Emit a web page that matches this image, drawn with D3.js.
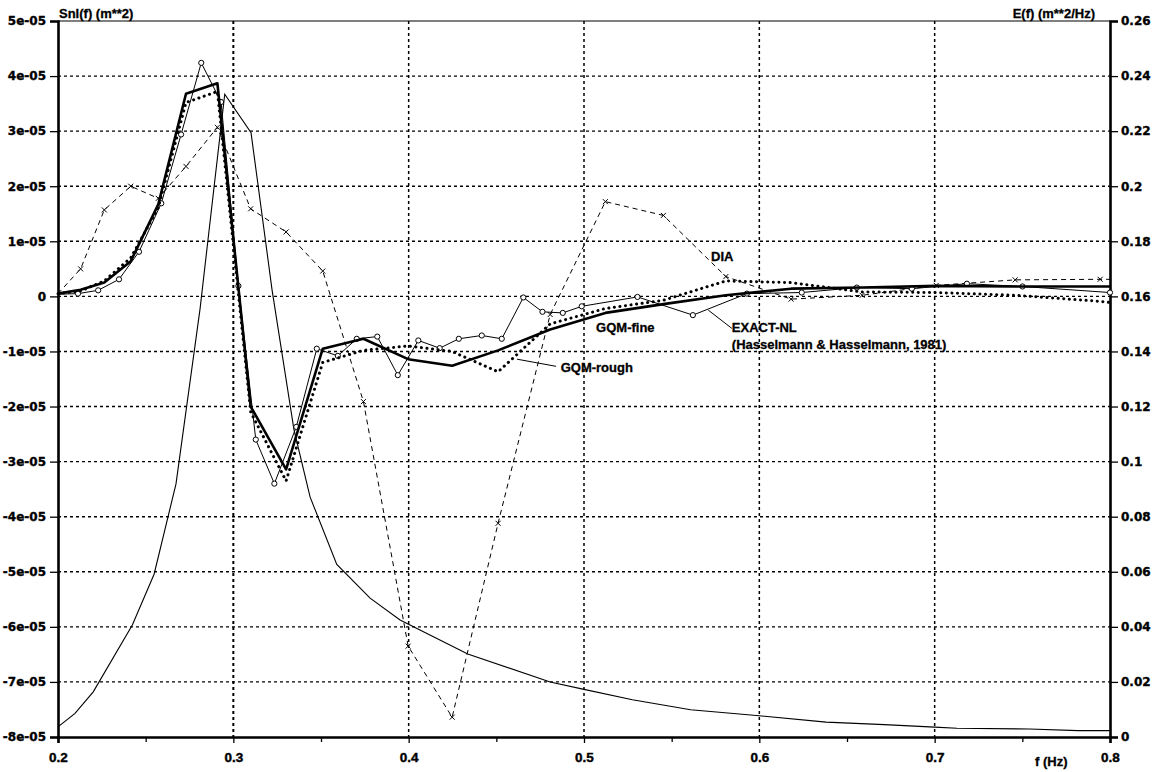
<!DOCTYPE html>
<html><head><meta charset="utf-8">
<script src="https://cdn.jsdelivr.net/npm/d3@7"></script>
<style>
html,body{margin:0;padding:0;background:#fff;}
svg{display:block;}
.tk{font-family:"DejaVu Sans",sans-serif;font-weight:bold;font-size:12px;stroke:#000;stroke-width:0.35px;}
.xt{font-family:"Liberation Sans",Arial,sans-serif;font-weight:bold;font-size:13.5px;stroke:#000;stroke-width:0.4px;}
.lb{font-family:"Liberation Sans",Arial,sans-serif;font-weight:bold;font-size:13px;stroke:#000;stroke-width:0.3px;}
</style></head><body>
<svg id="c" width="1160" height="772"></svg>
<script>
// ---- data ----
const xTicks = [0.2,0.3,0.4,0.5,0.6,0.7,0.8];
const xTickLabels = ["0.2","0.3","0.4","0.5","0.6","0.7","0.8"];
const xMinor = [0.25,0.35,0.45,0.55,0.65,0.75];
const leftTicks = [-8e-5,-7e-5,-6e-5,-5e-5,-4e-5,-3e-5,-2e-5,-1e-5,0,1e-5,2e-5,3e-5,4e-5,5e-5];
const leftTickLabels = ["-8e-05","-7e-05","-6e-05","-5e-05","-4e-05","-3e-05","-2e-05","-1e-05","0","1e-05","2e-05","3e-05","4e-05","5e-05"];
const rightTicks = [0,0.02,0.04,0.06,0.08,0.1,0.12,0.14,0.16,0.18,0.2,0.22,0.24,0.26];
const rightTickLabels = ["0","0.02","0.04","0.06","0.08","0.1","0.12","0.14","0.16","0.18","0.2","0.22","0.24","0.26"];

// E(f) spectrum (right axis)
const specF = [0.2,0.2097,0.2201,0.2424,0.2548,0.2673,0.281,0.2951,0.3101,0.3221,0.3346,0.3438,0.359,0.378,0.3951,0.4337,0.4807,0.5,0.5276,0.5608,0.6,0.6381,0.6713,0.7,0.7127,0.754,0.7818,0.8];
const specE = [0.0037,0.0086,0.0164,0.0407,0.0591,0.0919,0.1554,0.2334,0.2194,0.1623,0.1115,0.0871,0.0627,0.0504,0.0425,0.0301,0.0200,0.0173,0.0135,0.0099,0.0077,0.0054,0.0045,0.0036,0.0032,0.0029,0.0023,0.0023];

// frequency grid of DIA / GQM
const gridF = [0.2,0.2129,0.2264,0.2415,0.2572,0.2730,0.2909,0.3099,0.3301,0.3510,0.3742,0.3997,0.4248,0.4510,0.4807,0.5122,0.5453,0.5809,0.6181,0.6586,0.7009,0.7459,0.7944,0.8];
// Snl values in units of 1e-05
const diaSnl = [0.05,0.5,1.57,2.0,1.78,2.36,3.07,1.59,1.17,0.46,-1.91,-6.35,-7.64,-4.12,-0.33,1.72,1.47,0.36,-0.05,0.02,0.20,0.30,0.31,0.31];
const gqmFineSnl = [0.05,0.12,0.25,0.64,1.67,3.68,3.87,-2.0,-3.14,-0.95,-0.77,-1.14,-1.26,-0.98,-0.6,-0.30,-0.14,0.02,0.14,0.16,0.19,0.18,0.18,0.18];
const gqmRoughSnl = [0.05,0.10,0.28,0.70,1.61,3.52,3.72,-2.1,-3.35,-1.2,-0.98,-0.9,-1.0,-1.37,-0.5,-0.22,-0.07,0.28,0.25,0.08,0.07,0.02,-0.09,-0.11];

// EXACT-NL
const exactF = [0.2,0.2114,0.2229,0.2348,0.2462,0.2589,0.2702,0.2817,0.2930,0.3029,0.3128,0.3234,0.3359,0.3476,0.3596,0.3704,0.3821,0.3938,0.4055,0.4177,0.4286,0.4417,0.4531,0.4654,0.4763,0.4879,0.4987,0.5305,0.5621,0.5929,0.6242,0.6556,0.6870,0.7184,0.7501,0.8];
const exactSnl = [0.04,0.05,0.11,0.31,0.81,1.69,2.94,4.24,3.53,0.19,-2.60,-3.40,-2.37,-0.95,-1.08,-0.77,-0.73,-1.43,-0.80,-0.94,-0.77,-0.71,-0.77,-0.02,-0.28,-0.30,-0.18,-0.01,-0.34,0.05,0.07,0.16,0.14,0.23,0.18,0.07];

// ---- chart ----
const svg = d3.select("#c");
const L=58, R=1110, T=21, B=737;
const x = d3.scaleLinear([0.2,0.8],[L,R]);
const yL = d3.scaleLinear([-8e-5,5e-5],[B,T]);
const yR = d3.scaleLinear([0,0.26],[B,T]);

// grid
const g = svg.append("g");
g.selectAll("line.h").data(leftTicks.slice(1,-1)).join("line")
  .attr("x1",L).attr("x2",R).attr("y1",d=>yL(d)).attr("y2",d=>yL(d))
  .attr("stroke","#000").attr("stroke-width",1.4).attr("stroke-dasharray","3,3");
g.selectAll("line.v").data(xTicks.slice(1,-1)).join("line")
  .attr("y1",T).attr("y2",B).attr("x1",d=>x(d)).attr("x2",d=>x(d))
  .attr("stroke","#000").attr("stroke-width",(d,i)=>i===0?2:1.5).attr("stroke-dasharray","3,3");
// top frame
svg.append("line").attr("x1",L).attr("x2",R).attr("y1",T).attr("y2",T).attr("stroke","#000").attr("stroke-width",1.2);

// axes
const axL = svg.append("g").attr("transform",`translate(${L},0)`)
  .call(d3.axisLeft(yL).tickValues(leftTicks).tickFormat((d,i)=>leftTickLabels[i]).tickSize(8).tickPadding(4));
const axR = svg.append("g").attr("transform",`translate(${R},0)`)
  .call(d3.axisRight(yR).tickValues(rightTicks).tickFormat((d,i)=>rightTickLabels[i]).tickSize(8).tickPadding(3));
const axB = svg.append("g").attr("transform",`translate(0,${B})`)
  .call(d3.axisBottom(x).tickValues(xTicks).tickFormat((d,i)=>xTickLabels[i]).tickSize(6).tickPadding(9));
svg.append("g").attr("transform",`translate(0,${B})`)
  .call(d3.axisBottom(x).tickValues(xMinor).tickFormat("").tickSize(5))
  .select(".domain").remove();
[axL,axR,axB].forEach(a=>{
  a.select(".domain").attr("stroke","#000").attr("stroke-width",2.6);
  a.attr("font-family",null).attr("font-size",null);
});
svg.selectAll(".tick line").attr("stroke","#000").attr("stroke-width",1.3);
axL.selectAll("text").attr("class","tk").attr("fill","#000");
axR.selectAll("text").attr("class","tk").attr("fill","#000");
axB.selectAll("text").attr("class","xt").attr("fill","#000");

// series
const pts = (fs,vs,sc,k)=>fs.map((f,i)=>[x(f),sc(vs[i]*k)]);
const line = d3.line();
const specPts = pts(specF,specE,yR,1);
const diaPts = pts(gridF,diaSnl,yL,1e-5);
const finePts = pts(gridF,gqmFineSnl,yL,1e-5);
const roughPts = pts(gridF,gqmRoughSnl,yL,1e-5);
const exactPts = pts(exactF,exactSnl,yL,1e-5);

svg.append("path").attr("d",line(specPts)).attr("fill","none").attr("stroke","#000").attr("stroke-width",1.1);
svg.append("path").attr("d",line(diaPts)).attr("fill","none").attr("stroke","#000").attr("stroke-width",1).attr("stroke-dasharray","5,4");
svg.append("g").selectAll("path").data(diaPts.slice(1,-1)).join("path")
  .attr("d",d=>`M${d[0]-2.5},${d[1]-2.5}L${d[0]+2.5},${d[1]+2.5}M${d[0]-2.5},${d[1]+2.5}L${d[0]+2.5},${d[1]-2.5}`)
  .attr("stroke","#000").attr("stroke-width",1);
svg.append("path").attr("d",line(exactPts)).attr("fill","none").attr("stroke","#000").attr("stroke-width",1);
svg.append("g").selectAll("circle").data(exactPts.slice(1)).join("circle")
  .attr("cx",d=>d[0]).attr("cy",d=>d[1]).attr("r",2.6)
  .attr("fill","#fff").attr("stroke","#000").attr("stroke-width",1);
svg.append("path").attr("d",line(roughPts)).attr("fill","none").attr("stroke","#000").attr("stroke-width",3)
  .attr("stroke-dasharray","0.1,5.5").attr("stroke-linecap","round");
svg.append("path").attr("d",line(finePts)).attr("fill","none").attr("stroke","#000").attr("stroke-width",2.6).attr("stroke-linejoin","round");

// annotations (data coordinates)
const ann = svg.append("g").attr("class","lb").attr("fill","#000");
ann.append("text").attr("x",x(0.5725)).attr("y",yL(0.65e-5)).text("DIA");
ann.append("text").attr("x",x(0.5069)).attr("y",yL(-0.65e-5)).text("GQM-fine");
ann.append("text").attr("x",x(0.4867)).attr("y",yL(-1.38e-5)).text("GQM-rough");
ann.append("text").attr("x",x(0.5843)).attr("y",yL(-0.65e-5)).text("EXACT-NL");
ann.append("text").attr("x",x(0.5843)).attr("y",yL(-0.96e-5)).text("(Hasselmann & Hasselmann, 1981)");
svg.append("line").attr("x1",x(0.4618)).attr("y1",yL(-1.14e-5)).attr("x2",x(0.4841)).attr("y2",yL(-1.27e-5)).attr("stroke","#000").attr("stroke-width",1);
svg.append("line").attr("x1",x(0.5709)).attr("y1",yL(-0.25e-5)).attr("x2",x(0.5843)).attr("y2",yL(-0.58e-5)).attr("stroke","#000").attr("stroke-width",1);

// axis titles
svg.append("text").attr("class","lb").attr("x",L+1).attr("y",T-3).text("Snl(f) (m**2)");
svg.append("text").attr("class","lb").attr("x",1095).attr("y",T-3).attr("text-anchor","end").text("E(f) (m**2/Hz)");
svg.append("text").attr("class","lb").attr("x",1035).attr("y",766).text("f (Hz)");
</script>
</body></html>
